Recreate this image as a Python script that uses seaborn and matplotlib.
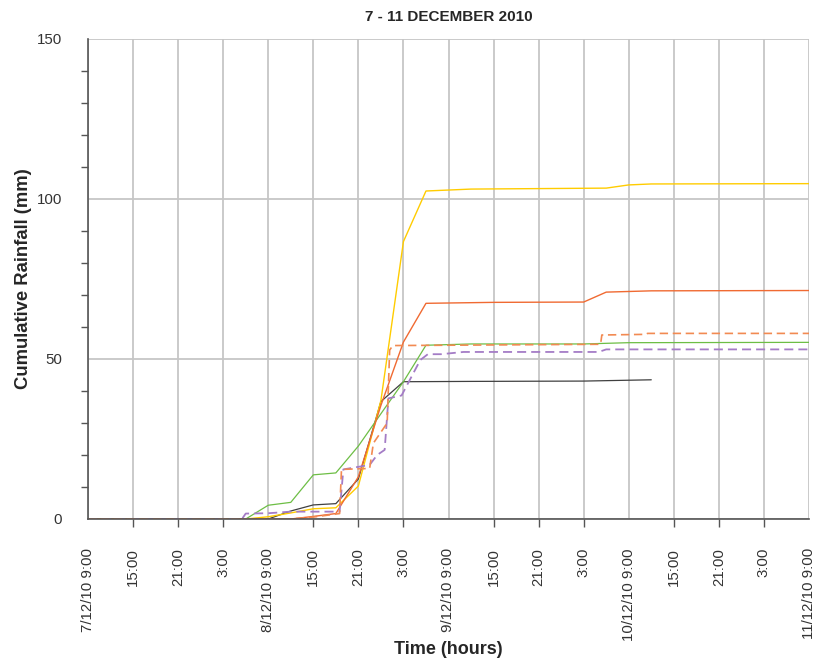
import matplotlib
matplotlib.use("Agg")
import matplotlib.pyplot as plt
import matplotlib.dates as mdates
from matplotlib.ticker import FixedLocator, FuncFormatter, MultipleLocator
import pandas as pd
import seaborn as sns

# ---- gauge records: cumulative rainfall (mm) against time ----
yellow_time = ["2010-12-07 09:00", "2010-12-08 06:00", "2010-12-08 09:00", "2010-12-08 12:00",
               "2010-12-08 15:00", "2010-12-08 18:00", "2010-12-08 21:00", "2010-12-09 00:00",
               "2010-12-09 03:00", "2010-12-09 06:00", "2010-12-09 12:00", "2010-12-10 06:00",
               "2010-12-10 09:00", "2010-12-10 12:00", "2010-12-11 09:00"]
yellow_mm = [0, 0, 0.7, 1.9, 3.2, 3.5, 10.3, 37.0, 86.7, 102.5, 103.1, 103.4, 104.4, 104.7, 104.8]

orange_time = ["2010-12-07 09:00", "2010-12-08 12:00", "2010-12-08 15:00", "2010-12-08 18:00",
               "2010-12-08 21:00", "2010-12-09 00:00", "2010-12-09 03:00", "2010-12-09 06:00",
               "2010-12-09 15:00", "2010-12-10 03:00", "2010-12-10 06:00", "2010-12-10 12:00",
               "2010-12-11 09:00"]
orange_mm = [0, 0, 0.8, 1.7, 13.2, 35.5, 55.3, 67.4, 67.7, 67.8, 70.9, 71.3, 71.4]

orange_dash_time = ["2010-12-07 09:00", "2010-12-08 12:00", "2010-12-08 15:00", "2010-12-08 18:30",
                    "2010-12-08 18:45", "2010-12-08 22:30", "2010-12-08 23:00", "2010-12-09 00:50",
                    "2010-12-09 01:10", "2010-12-09 01:35", "2010-12-10 05:15", "2010-12-10 05:25",
                    "2010-12-10 11:15", "2010-12-10 11:30", "2010-12-11 09:00"]
orange_dash_mm = [0, 0, 0.6, 1.7, 15.5, 15.8, 23.7, 30.0, 52.8, 54.2, 54.6, 57.5, 57.7, 58.0, 58.0]

green_time = ["2010-12-07 09:00", "2010-12-08 06:00", "2010-12-08 09:00", "2010-12-08 12:00",
              "2010-12-08 15:00", "2010-12-08 18:00", "2010-12-08 21:00", "2010-12-09 00:00",
              "2010-12-09 03:00", "2010-12-09 06:00", "2010-12-09 12:00", "2010-12-10 03:00",
              "2010-12-10 09:00", "2010-12-11 09:00"]
green_mm = [0, 0, 4.3, 5.2, 13.8, 14.4, 22.8, 32.9, 42.9, 54.3, 54.7, 54.7, 55.1, 55.2]

purple_time = ["2010-12-07 09:00", "2010-12-08 05:30", "2010-12-08 06:00", "2010-12-08 09:00",
               "2010-12-08 12:00", "2010-12-08 18:30", "2010-12-08 19:00", "2010-12-08 22:30",
               "2010-12-08 23:30", "2010-12-09 00:30", "2010-12-09 01:00", "2010-12-09 02:45",
               "2010-12-09 05:15", "2010-12-09 06:15", "2010-12-09 08:00", "2010-12-09 11:00",
               "2010-12-10 05:00", "2010-12-10 06:00", "2010-12-11 09:00"]
purple_mm = [0, 0, 1.7, 1.8, 2.3, 2.3, 15.5, 16.9, 20.0, 21.6, 37.7, 38.6, 49.7, 51.5, 51.5,
             52.2, 52.2, 53.0, 53.0]

black_time = ["2010-12-07 09:00", "2010-12-08 09:00", "2010-12-08 12:00", "2010-12-08 15:00",
              "2010-12-08 18:00", "2010-12-08 21:00", "2010-12-09 00:00", "2010-12-09 03:00",
              "2010-12-09 12:00", "2010-12-10 03:00", "2010-12-10 12:00"]
black_mm = [0, 0, 2.5, 4.4, 4.8, 12.5, 36.7, 42.9, 43.0, 43.1, 43.5]

series = [
    (black_time, black_mm, "#404040", 0.9, None),
    (yellow_time, yellow_mm, "#FFCC00", 1.0, None),
    (green_time, green_mm, "#6DBE45", 0.9, None),
    (orange_time, orange_mm, "#F06A32", 1.0, None),
    (purple_time, purple_mm, "#A47CC6", 1.3, (5, 2.8)),
    (orange_dash_time, orange_dash_mm, "#F28A52", 1.2, (5, 2.8)),
]

sns.set_style("white")
plt.rcParams["font.family"] = ["Liberation Sans", "DejaVu Sans"]

fig = plt.figure(figsize=(8.18, 6.62), dpi=100)
ax = fig.add_axes([88 / 818, 1 - 519 / 662, (809 - 88) / 818, (519 - 39) / 662])

for times, vals, color, lw, dash in series:
    df = pd.DataFrame({"time": pd.to_datetime(times), "mm": vals})
    sns.lineplot(data=df, x="time", y="mm", ax=ax, color=color, linewidth=lw,
                 estimator=None, sort=True)
    if dash is not None:
        ax.lines[-1].set_dashes(dash)

start = pd.Timestamp("2010-12-07 09:00")
end = pd.Timestamp("2010-12-11 09:00")
ax.set_xlim(start, end)
ax.set_ylim(0, 150)

six_hourly = pd.date_range(start, end, freq="6h")
day_ticks = [t for t in six_hourly if t.hour == 9]
hour_ticks = [t for t in six_hourly if t.hour != 9]

ax.xaxis.set_major_locator(FixedLocator(mdates.date2num(day_ticks)))
ax.xaxis.set_minor_locator(FixedLocator(mdates.date2num(hour_ticks)))


def day_label(x, pos=None):
    d = mdates.num2date(x)
    return f"{d.day}/{d.month}/{d.strftime('%y')} {d.hour}:{d.minute:02d}"


def hour_label(x, pos=None):
    d = mdates.num2date(x)
    return f"{d.hour}:{d.minute:02d}"


ax.xaxis.set_major_formatter(FuncFormatter(day_label))
ax.xaxis.set_minor_formatter(FuncFormatter(hour_label))

ax.yaxis.set_major_locator(MultipleLocator(50))
ax.yaxis.set_minor_locator(MultipleLocator(10))

tick_color = "#555555"
ax.tick_params(axis="x", which="major", direction="out", length=9.4, width=1.0,
               color=tick_color, pad=11.5, labelsize=10.8, labelcolor="#333333", rotation=90)
ax.tick_params(axis="x", which="minor", direction="out", length=5.8, width=1.0,
               color=tick_color, pad=15.1, labelsize=10.8, labelcolor="#333333",
               labelrotation=90, bottom=True)
ax.tick_params(axis="y", which="major", direction="out", length=9.4, width=1.0,
               color=tick_color, pad=9.4, labelsize=10.8, labelcolor="#333333")
ax.tick_params(axis="y", which="minor", direction="out", length=5.0, width=1.0,
               color=tick_color, left=True)

ax.grid(True, axis="x", which="both", color="#C6C6C6", linewidth=1.3)
ax.grid(True, axis="y", which="major", color="#C6C6C6", linewidth=1.3)
ax.set_axisbelow(True)

for side in ("top", "right"):
    ax.spines[side].set_visible(False)
for side in ("left", "bottom"):
    ax.spines[side].set_color(tick_color)
    ax.spines[side].set_linewidth(1.2)

ax.set_xlabel("Time (hours)", fontsize=13, fontweight="bold")
ax.set_ylabel("Cumulative Rainfall (mm)", fontsize=13.3, fontweight="bold")
ax.xaxis.label.set_va("center")
ax.yaxis.label.set_va("center")
ax.xaxis.set_label_coords(0.5, -(649 - 519) / 480)
ax.yaxis.set_label_coords(-(88 - 24) / 721, 0.5)
ax.set_title("7 - 11 DECEMBER 2010", fontsize=11, fontweight="bold", pad=13)

fig.savefig("out.png", dpi=100)
